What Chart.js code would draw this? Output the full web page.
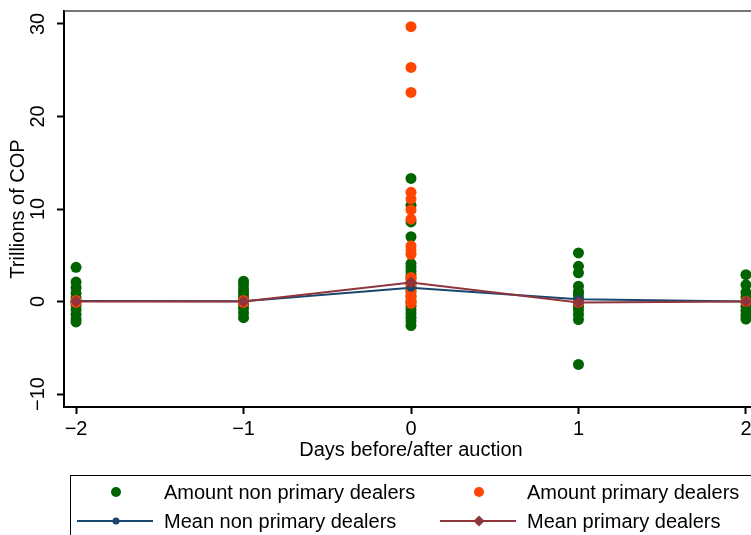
<!DOCTYPE html>
<html>
<head>
<meta charset="utf-8">
<script src="https://cdn.jsdelivr.net/npm/chart.js"></script>
<style>
  html, body { margin: 0; padding: 0; background: #fff; overflow: hidden; }
  #wrap { width: 751px; height: 535px; overflow: hidden; }
</style>
</head>
<body>
<div id="wrap"><canvas id="auction" width="770" height="548"></canvas></div>
<script>
// days relative to the auction (x positions of the columns)
var days = [-2, -1, 0, 1, 2];

// amounts per day, trillions of COP, one inner list per entry of `days`
var nonPrimaryAmounts = [
    [3.7, 2.1, 1.5, 0.9, 0.4, 0.0, -0.4, -0.9, -1.4, -1.9, -2.2],
    [2.2, 1.8, 1.3, 0.9, 0.5, 0.1, -0.3, -0.7, -1.2, -1.75],
    [13.3, 10.4, 8.6, 7.0, 4.1, 3.7, 3.3, 2.9, 2.5, 1.8, 1.2, 0.6, 0.0, -0.5, -0.9, -1.3, -1.7, -2.1, -2.6],
    [5.25, 3.8, 3.1, 1.65, 1.1, 0.8, 0.4, -0.1, -0.5, -0.9, -1.4, -1.95, -6.8],
    [2.9, 1.8, 1.0, 0.5, 0.0, -0.5, -1.0, -1.5, -1.9]
];
var primaryAmounts = [
    [0.1, -0.1],
    [0.1, -0.1],
    [29.7, 25.3, 22.6, 11.8, 11.1, 9.9, 8.9, 6.0, 5.5, 5.1, 2.6, 2.1, 1.6, 1.0, 0.5, 0.1, -0.2],
    [0.0, -0.1],
    [0.0]
];

// means per day
var meanNonPrimary = [0.05, 0.02, 1.5, 0.25, 0.0];
var meanPrimary = [0.0, 0.0, 2.05, -0.1, 0.0];

var xTicks = [-2, -1, 0, 1, 2];
var yTicks = [-10, 0, 10, 20, 30];

var seriesNames = [
    'Amount non primary dealers',
    'Amount primary dealers',
    'Mean non primary dealers',
    'Mean primary dealers'
];

function toPoints(groups) {
    var pts = [];
    for (var i = 0; i < days.length; ++i) {
        for (var j = 0; j < groups[i].length; ++j) {
            pts.push({x: days[i], y: groups[i][j]});
        }
    }
    return pts;
}

function meanPoints(values) {
    return days.map(function (d, i) { return {x: d, y: values[i]}; });
}

function minusLabel(v) {
    return v < 0 ? '\u2212' + Math.abs(v) : String(v);
}

var FONT = "'Liberation Sans', Arial, Helvetica, sans-serif";

// frame around plot region (top/right), Stata style
var framePlugin = {
    id: 'frame',
    beforeDatasetsDraw: function (chart) {
        var a = chart.chartArea, ctx = chart.ctx;
        ctx.save();
        ctx.strokeStyle = '#4a4a4a';
        ctx.lineWidth = 1.5;
        ctx.beginPath();
        ctx.moveTo(a.left, a.top);
        ctx.lineTo(a.right, a.top);
        ctx.lineTo(a.right, a.bottom);
        ctx.stroke();
        ctx.restore();
    }
};

// boxed two column legend under the axis title
var boxLegend = {
    id: 'boxLegend',
    afterDraw: function (chart) {
        var ctx = chart.ctx;
        var slots = [[116, 492], [479, 492], [116, 521], [479, 521]];
        ctx.save();
        ctx.strokeStyle = '#000';
        ctx.lineWidth = 1;
        ctx.strokeRect(70.5, 475.5, 720, 100);
        ctx.font = '20px ' + FONT;
        ctx.textBaseline = 'middle';
        ctx.textAlign = 'left';
        chart.data.datasets.forEach(function (ds) {
            var s = slots[ds.legendSlot];
            var cx = s[0], cy = s[1];
            if (ds.showLine) {
                ctx.strokeStyle = ds.borderColor;
                ctx.lineWidth = 2;
                ctx.beginPath();
                ctx.moveTo(cx - 39, cy);
                ctx.lineTo(cx + 37, cy);
                ctx.stroke();
            }
            ctx.fillStyle = ds.pointBackgroundColor;
            ctx.beginPath();
            if (ds.pointStyle === 'rectRot') {
                var r = 5.5;
                ctx.moveTo(cx - r, cy);
                ctx.lineTo(cx, cy - r);
                ctx.lineTo(cx + r, cy);
                ctx.lineTo(cx, cy + r);
                ctx.closePath();
            } else {
                ctx.arc(cx, cy, ds.showLine ? 3.5 : 5, 0, Math.PI * 2);
            }
            ctx.fill();
            ctx.fillStyle = '#000';
            ctx.fillText(ds.label, cx + 48, cy + 1);
        });
        ctx.restore();
    }
};

Chart.defaults.font.family = FONT;
Chart.defaults.font.size = 20;
Chart.defaults.color = '#000';

var ctx = document.getElementById('auction');
var auctionChart = new Chart(ctx, {
    type: 'scatter',
    data: {
        datasets: [
            {
                label: seriesNames[0],
                data: toPoints(nonPrimaryAmounts),
                pointStyle: 'circle',
                pointRadius: 5.5,
                pointBorderWidth: 0,
                pointBackgroundColor: '#006400',
                backgroundColor: '#006400',
                borderColor: '#006400',
                order: 4,
                legendSlot: 0
            },
            {
                label: seriesNames[1],
                data: toPoints(primaryAmounts),
                pointStyle: 'circle',
                pointRadius: 5.5,
                pointBorderWidth: 0,
                pointBackgroundColor: '#ff4500',
                backgroundColor: '#ff4500',
                borderColor: '#ff4500',
                order: 3,
                legendSlot: 1
            },
            {
                label: seriesNames[2],
                data: meanPoints(meanNonPrimary),
                showLine: true,
                borderColor: '#1a476f',
                borderWidth: 2,
                pointStyle: 'circle',
                pointRadius: 4,
                pointBorderWidth: 0,
                pointBackgroundColor: '#1a476f',
                order: 2,
                legendSlot: 2
            },
            {
                label: seriesNames[3],
                data: meanPoints(meanPrimary),
                showLine: true,
                borderColor: '#90353b',
                borderWidth: 2,
                pointStyle: 'rectRot',
                pointRadius: 6,
                pointBorderWidth: 0,
                pointBackgroundColor: '#90353b',
                order: 1,
                legendSlot: 3
            }
        ]
    },
    options: {
        responsive: false,
        animation: false,
        events: [],
        layout: {padding: {left: 0, top: 11, right: 12, bottom: 85}},
        plugins: {
            legend: {display: false},
            tooltip: {enabled: false}
        },
        scales: {
            x: {
                type: 'linear',
                min: -2.072,
                max: 2.072,
                afterFit: function (scale) {
                    scale.height = 56;
                    scale.paddingLeft = 0;
                    scale.paddingRight = 0;
                },
                afterBuildTicks: function (scale) {
                    scale.ticks = xTicks.map(function (v) { return {value: v}; });
                },
                ticks: {
                    stepSize: 1,
                    includeBounds: false,
                    padding: 3,
                    maxRotation: 0,
                    callback: minusLabel
                },
                grid: {
                    drawOnChartArea: false,
                    drawTicks: true,
                    tickLength: 7,
                    tickWidth: 2,
                    tickColor: '#000'
                },
                border: {display: true, color: '#000', width: 2},
                title: {
                    display: true,
                    text: 'Days before/after auction',
                    padding: {top: 0, bottom: 1}
                }
            },
            y: {
                type: 'linear',
                min: -11.4,
                max: 31.4,
                afterFit: function (scale) {
                    scale.width = 64;
                    scale.paddingTop = 0;
                    scale.paddingBottom = 0;
                },
                afterBuildTicks: function (scale) {
                    scale.ticks = yTicks.map(function (v) { return {value: v}; });
                },
                ticks: {
                    stepSize: 10,
                    includeBounds: false,
                    minRotation: 90,
                    maxRotation: 90,
                    crossAlign: 'center',
                    padding: 2,
                    callback: minusLabel
                },
                grid: {
                    drawOnChartArea: false,
                    drawTicks: true,
                    tickLength: 7,
                    tickWidth: 2,
                    tickColor: '#000'
                },
                border: {display: true, color: '#000', width: 2},
                title: {
                    display: true,
                    text: 'Trillions of COP',
                    padding: {top: 6, bottom: 0}
                }
            }
        }
    },
    plugins: [framePlugin, boxLegend]
});
</script>
</body>
</html>
